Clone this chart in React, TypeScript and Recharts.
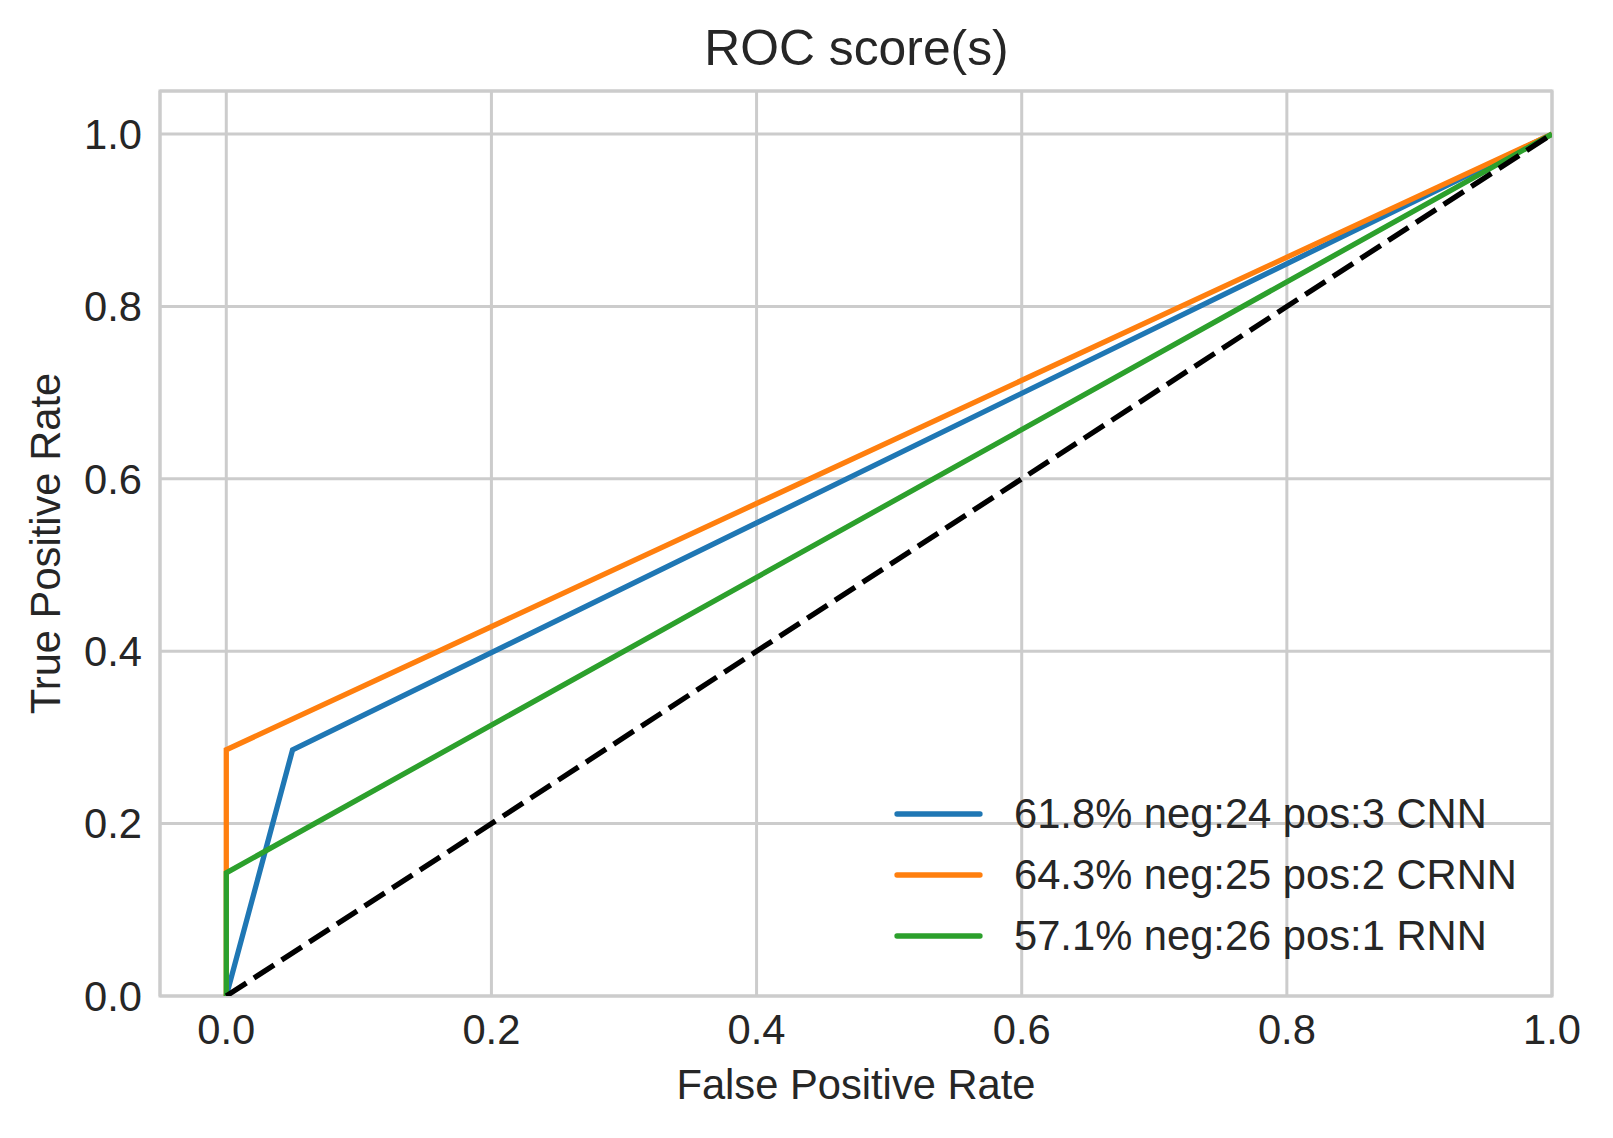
import React from "react";
import {
  LineChart,
  Line,
  XAxis,
  YAxis,
  CartesianGrid,
  Legend,
  ReferenceArea,
  Customized,
} from "recharts";

// ROC curves
const modelNames = ["CNN", "CRNN", "RNN"];
const legendLabels = [
  "61.8% neg:24 pos:3 CNN",
  "64.3% neg:25 pos:2 CRNN",
  "57.1% neg:26 pos:1 RNN",
];
const fprCNN = [0, 0.05, 1];
const tprCNN = [0, 0.2857, 1];
const fprCRNN = [0, 0, 1];
const tprCRNN = [0, 0.2857, 1];
const fprRNN = [0, 0, 1];
const tprRNN = [0, 0.1429, 1];
const chanceFpr = [0, 1];
const chanceTpr = [0, 1];

const xTicks = [0, 0.2, 0.4, 0.6, 0.8, 1.0];
const yTicks = [0, 0.2, 0.4, 0.6, 0.8, 1.0];

const COLORS = ["#1f77b4", "#ff7f0e", "#2ca02c"];
const TEXT = "#262626";
const GRID = "#cccccc";
const FONT = '"Liberation Sans", Arial, sans-serif';
const FS = 41.7;
const LW = 5.3;

const toPoints = (fpr: number[], tpr: number[]) =>
  fpr.map((x, i) => ({ fpr: x, tpr: tpr[i] }));

const curves = [
  toPoints(fprCNN, tprCNN),
  toPoints(fprCRNN, tprCRNN),
  toPoints(fprRNN, tprRNN),
];
const chance = toPoints(chanceFpr, chanceTpr);

const W = 1597;
const H = 1120;

const renderLegend = () => (
  <div style={{ fontFamily: FONT }}>
    {legendLabels.map((label, i) => (
      <div
        key={label}
        style={{ display: "flex", alignItems: "center", height: 61 }}
      >
        <svg width={89} height={10} style={{ marginRight: 31 }}>
          <line
            x1={3}
            x2={86}
            y1={5}
            y2={5}
            stroke={COLORS[i]}
            strokeWidth={LW}
            strokeLinecap="round"
          />
        </svg>
        <span style={{ fontSize: FS, lineHeight: "61px", color: TEXT, whiteSpace: "nowrap" }}>
          {label}
        </span>
      </div>
    ))}
  </div>
);

const Title = () => (
  <text
    x={848.5}
    y={57}
    textAnchor="middle"
    fontSize={49.8}
    fill={TEXT}
    fontFamily={FONT}
  >
    ROC score(s)
  </text>
);

const App = () => (
  <div style={{ width: W, height: H, fontFamily: FONT }}>
    <LineChart
      width={W}
      height={H}
      margin={{ top: 83, right: 53, bottom: 0, left: 0 }}
    >
      <CartesianGrid stroke={GRID} strokeWidth={3} />
      <ReferenceArea
        x1={-0.05}
        x2={1}
        y1={0}
        y2={1.05}
        fill="none"
        stroke={GRID}
        strokeWidth={3}
        ifOverflow="visible"
      />
      <XAxis
        dataKey="fpr"
        type="number"
        domain={[-0.05, 1]}
        ticks={xTicks}
        interval={0}
        allowDataOverflow
        height={132}
        tickSize={0}
        tickMargin={18}
        axisLine={false}
        tickFormatter={(v: number) => v.toFixed(1)}
        tick={{ fill: TEXT, fontSize: FS, fontFamily: FONT }}
        label={{
          content: ({ viewBox }: any) => (
            <text
              x={viewBox.x + viewBox.width / 2}
              y={1091}
              textAnchor="middle"
              fontSize={FS}
              fill={TEXT}
              fontFamily={FONT}
            >
              False Positive Rate
            </text>
          ),
        }}
      />
      <YAxis
        type="number"
        domain={[0, 1.05]}
        ticks={yTicks}
        interval={0}
        allowDataOverflow
        width={152}
        tickSize={0}
        tickMargin={18}
        axisLine={false}
        tickFormatter={(v: number) => v.toFixed(1)}
        tick={{ fill: TEXT, fontSize: FS, fontFamily: FONT }}
        label={{
          content: ({ viewBox }: any) => {
            const cx = 52;
            const cy = viewBox.y + viewBox.height / 2;
            return (
              <text
                x={cx}
                y={cy}
                textAnchor="middle"
                fontSize={FS}
                fill={TEXT}
                fontFamily={FONT}
                transform={`rotate(-90, ${cx}, ${cy})`}
              >
                True Positive Rate
              </text>
            );
          },
        }}
      />
      {curves.map((pts, i) => (
        <Line
          key={modelNames[i]}
          data={pts}
          dataKey="tpr"
          name={legendLabels[i]}
          stroke={COLORS[i]}
          strokeWidth={LW}
          dot={false}
          activeDot={false}
          isAnimationActive={false}
        />
      ))}
      <Line
        data={chance}
        dataKey="tpr"
        name="chance"
        stroke="#000000"
        strokeWidth={LW}
        strokeDasharray="24 9"
        dot={false}
        activeDot={false}
        legendType="none"
        isAnimationActive={false}
      />
      <Legend
        layout="horizontal"
        verticalAlign="middle"
        align="center"
        content={renderLegend}
        wrapperStyle={{ left: 886, top: 775, width: 660 }}
      />
      <Customized component={Title} />
    </LineChart>
  </div>
);

export default App;
